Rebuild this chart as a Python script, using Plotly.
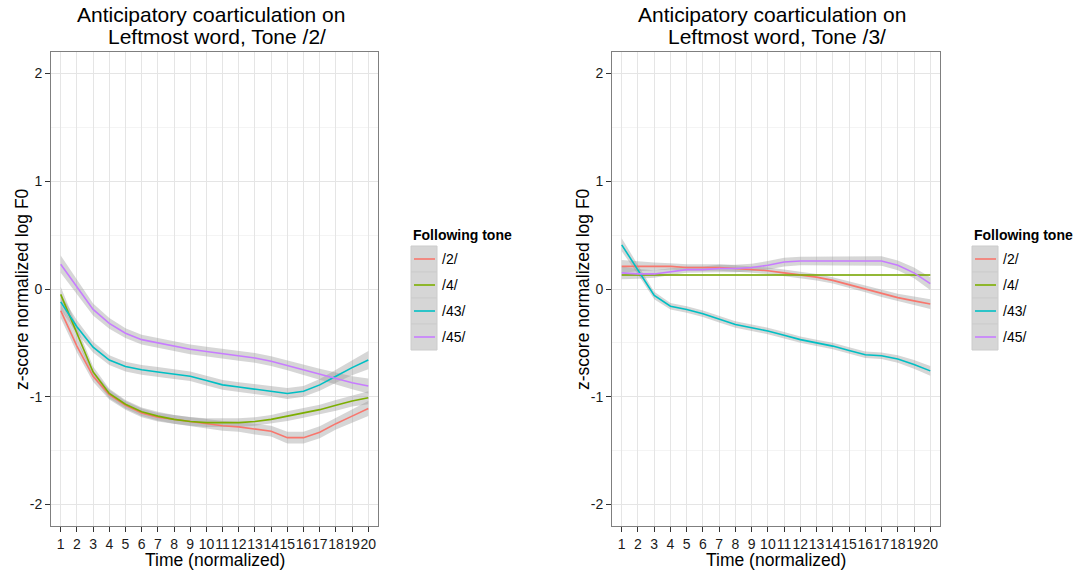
import plotly.graph_objects as go

W, H = 1078, 573

time_points = list(range(1, 21))
tones = ["/2/", "/4/", "/43/", "/45/"]
colors = ["#F8766D", "#7CAE00", "#00BFC4", "#C77CFF"]

# Panel 1: Leftmost word, Tone /2/
p1_t2 = [-0.20, -0.53, -0.81, -0.98, -1.08, -1.15, -1.19, -1.21, -1.23, -1.25,
         -1.27, -1.28, -1.30, -1.32, -1.38, -1.38, -1.33, -1.25, -1.18, -1.11]
p1_t4 = [-0.05, -0.41, -0.77, -0.97, -1.07, -1.14, -1.18, -1.21, -1.23, -1.24,
         -1.24, -1.24, -1.23, -1.21, -1.18, -1.15, -1.12, -1.08, -1.04, -1.01]
p1_t43 = [-0.12, -0.35, -0.54, -0.66, -0.72, -0.75, -0.77, -0.79, -0.81, -0.85,
          -0.89, -0.91, -0.93, -0.95, -0.97, -0.95, -0.89, -0.81, -0.73, -0.66]
p1_t45 = [0.23, 0.02, -0.19, -0.32, -0.41, -0.47, -0.50, -0.53, -0.56, -0.58,
          -0.60, -0.62, -0.64, -0.67, -0.71, -0.75, -0.79, -0.83, -0.87, -0.90]
p1_se_t2 = [0.07, 0.06, 0.05, 0.045, 0.04, 0.04, 0.04, 0.04, 0.04, 0.045,
            0.045, 0.045, 0.05, 0.05, 0.055, 0.055, 0.055, 0.055, 0.06, 0.07]
p1_se_t4 = [0.07, 0.06, 0.05, 0.045, 0.04, 0.04, 0.04, 0.04, 0.04, 0.04,
            0.04, 0.04, 0.04, 0.04, 0.045, 0.045, 0.045, 0.05, 0.05, 0.06]
p1_se_t43 = [0.07, 0.06, 0.05, 0.045, 0.045, 0.045, 0.045, 0.045, 0.045, 0.045,
             0.045, 0.045, 0.045, 0.045, 0.05, 0.05, 0.055, 0.06, 0.07, 0.085]
p1_se_t45 = [0.08, 0.065, 0.055, 0.05, 0.045, 0.045, 0.045, 0.045, 0.045, 0.045,
             0.045, 0.045, 0.045, 0.045, 0.045, 0.05, 0.05, 0.055, 0.06, 0.07]

# Panel 2: Leftmost word, Tone /3/
p2_t2 = [0.21, 0.21, 0.21, 0.21, 0.20, 0.20, 0.20, 0.19, 0.18, 0.17,
         0.15, 0.13, 0.11, 0.08, 0.04, 0.00, -0.04, -0.08, -0.11, -0.14]
p2_t4 = [0.13, 0.13, 0.13, 0.13, 0.13, 0.13, 0.13, 0.13, 0.13, 0.13,
         0.13, 0.13, 0.13, 0.13, 0.13, 0.13, 0.13, 0.13, 0.13, 0.13]
p2_t43 = [0.41, 0.18, -0.06, -0.16, -0.19, -0.23, -0.28, -0.33, -0.36, -0.39,
          -0.43, -0.47, -0.50, -0.53, -0.57, -0.61, -0.62, -0.65, -0.70, -0.76]
p2_t45 = [0.15, 0.14, 0.14, 0.16, 0.18, 0.18, 0.19, 0.19, 0.20, 0.22,
          0.25, 0.26, 0.26, 0.26, 0.26, 0.26, 0.26, 0.22, 0.15, 0.05]
p2_se_t2 = [0.06, 0.045, 0.035, 0.03, 0.03, 0.03, 0.03, 0.03, 0.03, 0.03,
            0.03, 0.03, 0.03, 0.03, 0.03, 0.03, 0.035, 0.035, 0.04, 0.045]
p2_se_t4 = [0.01] * 20
p2_se_t43 = [0.06, 0.045, 0.035, 0.03, 0.03, 0.03, 0.03, 0.03, 0.03, 0.03,
             0.03, 0.03, 0.03, 0.03, 0.03, 0.03, 0.03, 0.035, 0.04, 0.045]
p2_se_t45 = [0.06, 0.045, 0.035, 0.03, 0.03, 0.03, 0.035, 0.035, 0.035, 0.04,
             0.04, 0.04, 0.04, 0.04, 0.04, 0.045, 0.045, 0.045, 0.05, 0.06]

titles = ["Anticipatory coarticulation on", " Leftmost word, Tone /2/",
          "Anticipatory coarticulation on", " Leftmost word, Tone /3/"]
x_title = "Time (normalized)"
y_title = "z-score normalized log F0"
legend_title = "Following tone"

panels = [
    ([p1_t2, p1_t4, p1_t43, p1_t45], [p1_se_t2, p1_se_t4, p1_se_t43, p1_se_t45]),
    ([p2_t2, p2_t4, p2_t43, p2_t45], [p2_se_t2, p2_se_t4, p2_se_t43, p2_se_t45]),
]

FONT = "Liberation Sans, Arial, Helvetica, sans-serif"
RIBBON = "rgba(153,153,153,0.4)"

fig = go.Figure()

for pi, (series, ses) in enumerate(panels):
    xa = "x" if pi == 0 else "x2"
    ya = "y" if pi == 0 else "y2"
    # ribbons first
    for s, se in zip(series, ses):
        upper = [v + e for v, e in zip(s, se)]
        lower = [v - e for v, e in zip(s, se)]
        fig.add_trace(go.Scatter(
            x=time_points + time_points[::-1], y=upper + lower[::-1],
            fill="toself", fillcolor=RIBBON, line=dict(width=0),
            mode="lines", hoverinfo="skip", showlegend=False,
            xaxis=xa, yaxis=ya))
    for s, c, name in zip(series, colors, tones):
        fig.add_trace(go.Scatter(
            x=time_points, y=s, mode="lines", name=name,
            line=dict(color=c, width=1.6), showlegend=False,
            xaxis=xa, yaxis=ya))

def px(x):
    return x / W

def py(y):
    return 1 - y / H

panel_px = [(51, 378), (612, 940)]
top_px, bot_px = 52, 526

axis_common = dict(
    showline=True, linecolor="#7f7f7f", linewidth=1, mirror=True,
    ticks="outside", ticklen=5, tickcolor="#333333", tickwidth=1,
    tickfont=dict(family=FONT, size=14, color="#1a1a1a"),
    showgrid=True, gridcolor="#e5e5e5", gridwidth=1, zeroline=False,
)

layout = dict(
    width=W, height=H, margin=dict(l=0, r=0, t=0, b=0),
    paper_bgcolor="white", plot_bgcolor="white",
    font=dict(family=FONT, color="#000000"),
    showlegend=False,
)
for i, (l, r) in enumerate(panel_px):
    sfx = "" if i == 0 else "2"
    layout["xaxis" + sfx] = dict(
        axis_common, domain=[px(l), px(r)], range=[0.4, 20.6],
        tickmode="array", tickvals=time_points,
        ticktext=[str(t) for t in time_points], tickangle=0,
        anchor="y" + sfx)
    layout["yaxis" + sfx] = dict(
        axis_common, domain=[py(bot_px), py(top_px)], range=[-2.2, 2.2],
        tickmode="array", tickvals=[-2, -1, 0, 1, 2],
        ticktext=["-2", "-1", "0", "1", "2"],
        minor=dict(tickvals=[-1.5, -0.5, 0.5, 1.5], showgrid=True,
                   gridcolor="#f4f4f4", ticks=""),
        anchor="x" + sfx)

fig.update_layout(**layout)

annotations = []
shapes = []
title_centers = [(211, 217), (772, 777)]
for i, (l, r) in enumerate(panel_px):
    c1, c2 = title_centers[i]
    annotations.append(dict(text=titles[2 * i], x=px(c1), y=py(15), xref="paper", yref="paper",
                            showarrow=False, xanchor="center", yanchor="middle",
                            font=dict(family=FONT, size=21, color="#000000")))
    annotations.append(dict(text=titles[2 * i + 1].strip(), x=px(c2), y=py(36.5), xref="paper", yref="paper",
                            showarrow=False, xanchor="center", yanchor="middle",
                            font=dict(family=FONT, size=21, color="#000000")))
    cx = (l + r) / 2
    annotations.append(dict(text=x_title, x=px(cx), y=py(560), xref="paper", yref="paper",
                            showarrow=False, xanchor="center", yanchor="middle",
                            font=dict(family=FONT, size=17.5, color="#000000")))
    annotations.append(dict(text=y_title, x=px(l - 29), y=py((top_px + bot_px) / 2),
                            xref="paper", yref="paper", textangle=-90,
                            showarrow=False, xanchor="center", yanchor="middle",
                            font=dict(family=FONT, size=17.5, color="#000000")))

legend_pos = [411, 972]
for lx in legend_pos:
    annotations.append(dict(text="<b>" + legend_title + "</b>", x=px(lx), y=py(235),
                            xref="paper", yref="paper", showarrow=False,
                            xanchor="left", yanchor="middle",
                            font=dict(family=FONT, size=14, color="#000000")))
    for k, (name, c) in enumerate(zip(tones, colors)):
        y0 = 246 + 26 * k
        shapes.append(dict(type="rect", xref="paper", yref="paper",
                           x0=px(lx), x1=px(lx + 26), y0=py(y0), y1=py(y0 + 26),
                           fillcolor="#d6d6d6", line=dict(color="#cccccc", width=1),
                           layer="above"))
        shapes.append(dict(type="line", xref="paper", yref="paper",
                           x0=px(lx + 3), x1=px(lx + 24), y0=py(y0 + 13), y1=py(y0 + 13),
                           line=dict(color=c, width=1.6), layer="above"))
        annotations.append(dict(text=name, x=px(lx + 29), y=py(y0 + 13),
                                xref="paper", yref="paper", showarrow=False,
                                xanchor="left", yanchor="middle",
                                font=dict(family=FONT, size=14, color="#000000")))

fig.update_layout(annotations=annotations, shapes=shapes)

fig.write_html("out.html")
